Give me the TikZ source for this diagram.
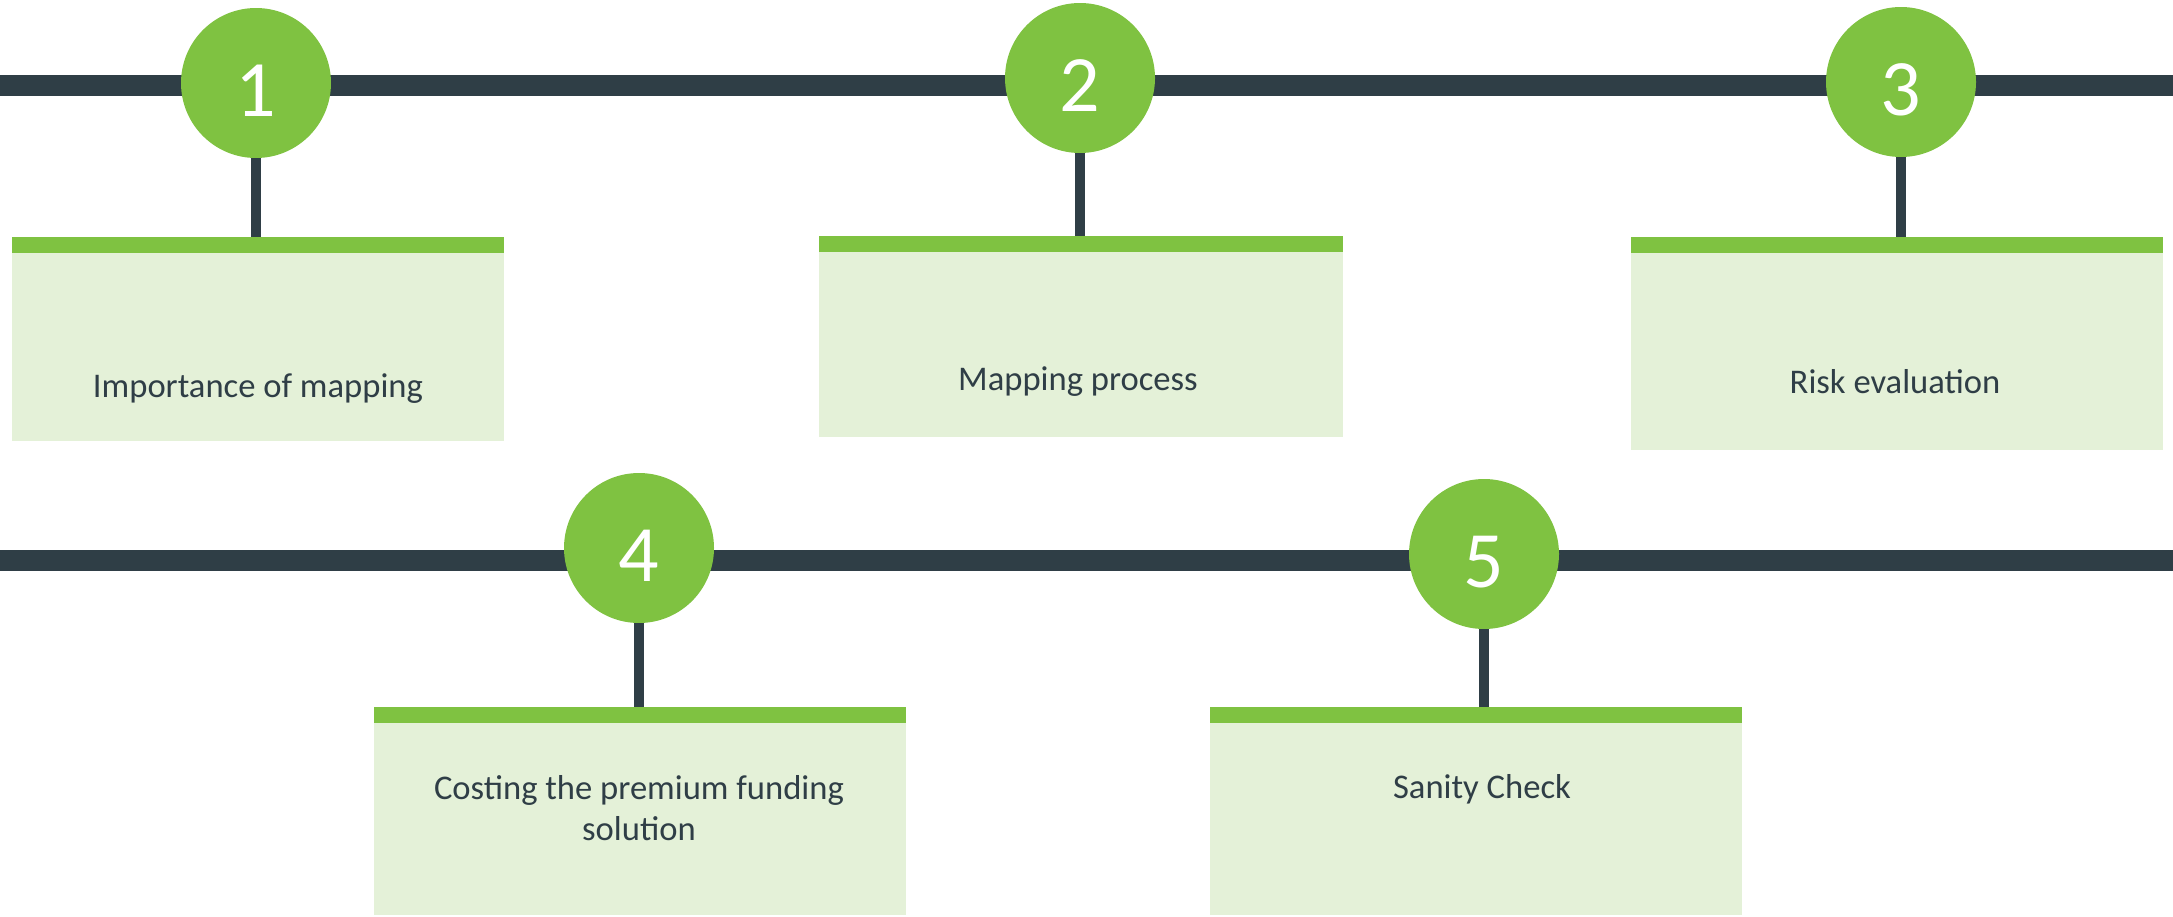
\documentclass[tikz,border=0pt]{standalone}
\usepackage{fontspec}
\setmainfont{Carlito}
\definecolor{leaf}{HTML}{7FC241}
\definecolor{slate}{HTML}{2F3E46}
\definecolor{pale}{HTML}{E4F1D8}
% digit set with no height or depth, so it sits slightly below the disc centre
\newcommand{\stepnum}[1]{\raisebox{-33pt}[0pt][0pt]{#1}}
\begin{document}
\begin{tikzpicture}[x=1pt,y=-1pt,
  marker/.style={circle,fill=leaf,minimum size=150pt,inner sep=0pt,
    text=white,font=\fontsize{80}{80}\selectfont},
  card/.style={rectangle,fill=pale,inner sep=0pt,
    path picture={\fill[leaf] (path picture bounding box.north west)
      rectangle ([yshift=-16pt]path picture bounding box.north east);}},
  caption/.style={text=slate,font=\fontsize{34.6}{41}\selectfont,align=center},
  rail/.style={slate,line width=21pt},
  stem/.style={slate,line width=10pt}]
\useasboundingbox (0,0) rectangle (2173,916);

% timeline rails
\coordinate (r1w) at (0,85);
\coordinate (r1e) at (2173,85);
\coordinate (r2w) at (0,560.5);
\coordinate (r2e) at (2173,560.5);
\draw[rail] (r1w) -- (r1e);
\draw[rail] (r2w) -- (r2e);

% step cards
\node[card,minimum width=492pt,minimum height=204pt] (b1) at (258,339) {};
\node[card,minimum width=524pt,minimum height=201pt] (b2) at (1081,336.5) {};
\node[card,minimum width=532pt,minimum height=213pt] (b3) at (1897,343.5) {};
\node[card,minimum width=532pt,minimum height=208pt] (b4) at (640,811) {};
\node[card,minimum width=532pt,minimum height=208pt] (b5) at (1476,811) {};

% numbered markers
\node[marker] (c1) at (256,83) {\stepnum{1}};
\node[marker] (c2) at (1080,78) {\stepnum{2}};
\node[marker] (c3) at (1901,82) {\stepnum{3}};
\node[marker] (c4) at (639,548) {\stepnum{4}};
\node[marker] (c5) at (1484,554) {\stepnum{5}};

% stems joining markers to cards
\foreach \i in {1,...,5}
  \draw[stem] (c\i.south) -- (c\i.south |- b\i.north);

% card captions
\node[caption] (t1) at (258,389) {Importance of mapping};
\node[caption] (t2) at (1078,382) {Mapping process};
\node[caption] (t3) at (1895,382) {Risk evaluation};
\node[caption] (t4) at (639,808.5) {Costing the premium funding\\solution};
\node[caption] (t5) at (1482,789) {Sanity Check};
\end{tikzpicture}
\end{document}
